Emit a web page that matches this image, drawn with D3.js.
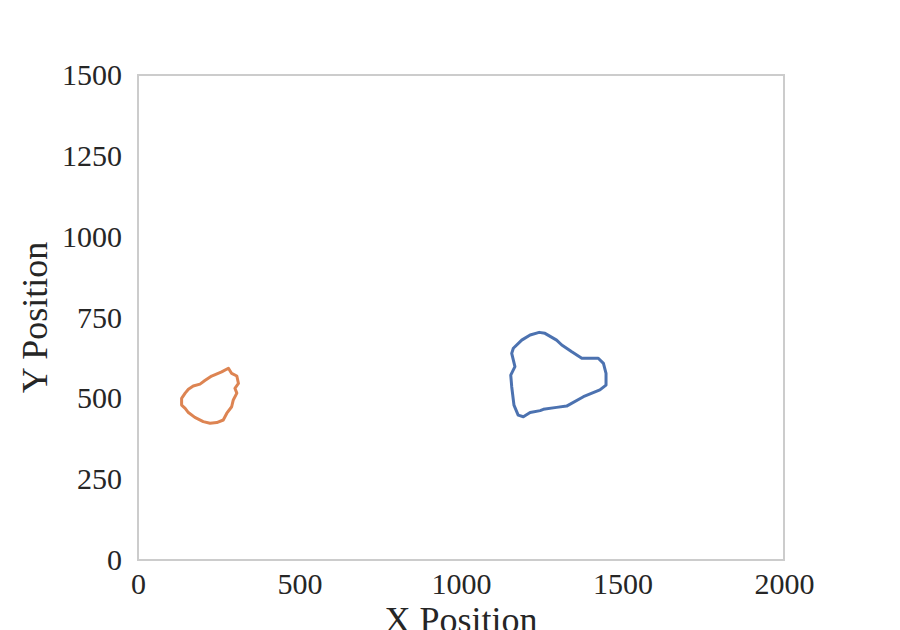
<!DOCTYPE html>
<html><head><meta charset="utf-8">
<script src="https://cdn.jsdelivr.net/npm/d3@7"></script>
<style>body{margin:0;background:#fff}svg{display:block}</style>
</head><body>
<script>
// Outline of object 1 (blue), data coordinates
const blueX = [1242,1260,1296,1312,1343,1374,1425,1441,1449,1449,1430,1379,1327,1296,1255,1245,1214,1193,1177,1164,1157,1154,1167,1157,1162,1188,1214];
const blueY = [704,701,680,665,644,624,624,608,577,541,526,505,476,472,466,462,456,443,448,479,536,572,598,639,655,680,696];
// Outline of object 2 (orange)
const orangeX = [280,290,306,311,300,306,295,290,275,264,244,223,202,176,156,146,135,135,146,156,171,192,207,228,259];
const orangeY = [593,577,569,546,531,516,495,474,454,433,425,423,428,441,456,469,479,500,516,528,538,544,555,569,582];
const xTicks = [0,500,1000,1500,2000];
const yTicks = [0,250,500,750,1000,1250,1500];

const W=900,H=630;
const m={left:138,right:116,top:75,bottom:70};
const svg=d3.select("body").append("svg").attr("width",W).attr("height",H);
const x=d3.scaleLinear().domain([0,2000]).range([m.left,W-m.right]);
const y=d3.scaleLinear().domain([0,1500]).range([H-m.bottom,m.top]);
const font="'Liberation Serif','Times New Roman',serif";

const xAxis=svg.append("g").attr("transform",`translate(0,${H-m.bottom})`)
  .call(d3.axisBottom(x).tickValues(xTicks).tickSize(0).tickPadding(13).tickFormat(d3.format("d")));
const yAxis=svg.append("g").attr("transform",`translate(${m.left},0)`)
  .call(d3.axisLeft(y).tickValues(yTicks).tickSize(0).tickPadding(16).tickFormat(d3.format("d")));
[xAxis,yAxis].forEach(g=>{g.select(".domain").remove();g.selectAll("text").attr("font-family",font).attr("font-size",30).attr("fill","#262626");});

svg.append("rect").attr("x",x(0)).attr("y",y(1500)).attr("width",x(2000)-x(0)).attr("height",y(0)-y(1500))
  .attr("fill","none").attr("stroke","#cccccc").attr("stroke-width",2);

const line=d3.line().x(d=>x(d[0])).y(d=>y(d[1])).curve(d3.curveLinearClosed);
const series=[
  {xs:blueX,ys:blueY,color:"#4c72b0"},
  {xs:orangeX,ys:orangeY,color:"#dd8452"}
];
series.forEach(s=>{
  svg.append("path").datum(s.xs.map((v,i)=>[v,s.ys[i]])).attr("d",line)
    .attr("fill","none").attr("stroke",s.color).attr("stroke-width",3).attr("stroke-linejoin","round");
});

svg.append("text").attr("x",(x(0)+x(2000))/2).attr("y",632).attr("text-anchor","middle")
  .attr("font-family",font).attr("font-size",36).attr("fill","#262626").text("X Position");
svg.append("text").attr("transform",`translate(47,${(y(0)+y(1500))/2}) rotate(-90)`).attr("text-anchor","middle")
  .attr("font-family",font).attr("font-size",36).attr("fill","#262626").text("Y Position");
</script>
</body></html>
